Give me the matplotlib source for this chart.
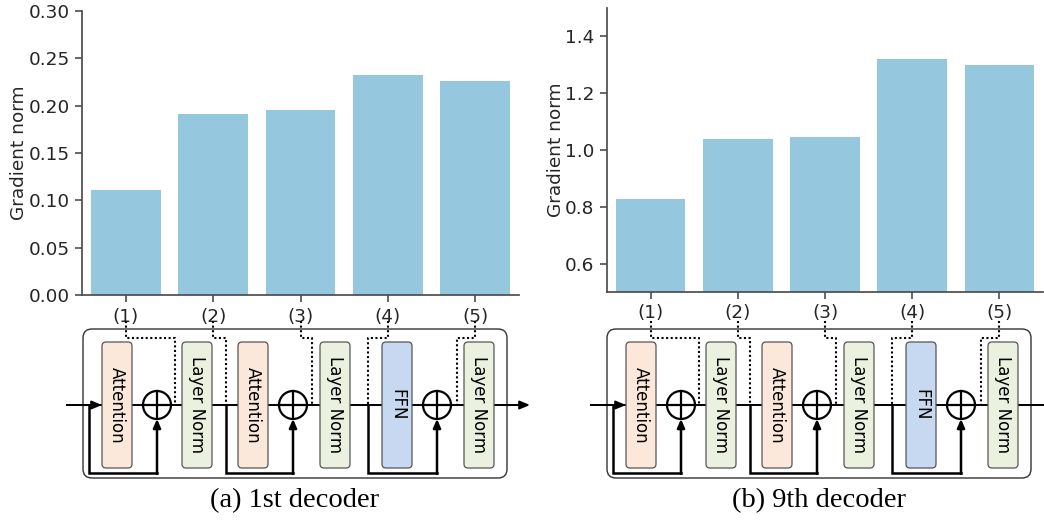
import numpy as np
import matplotlib.pyplot as plt
from matplotlib.patches import FancyBboxPatch, Circle

# bar data
labels = ["(1)", "(2)", "(3)", "(4)", "(5)"]
norm_1st = [0.111, 0.191, 0.195, 0.232, 0.226]
norm_9th = [0.827, 1.040, 1.046, 1.321, 1.298]

# decoder layer diagram
blocks = ["Attention", "Layer Norm", "Attention", "Layer Norm", "FFN", "Layer Norm"]
block_colors = {"Attention": "#fce8da", "Layer Norm": "#ebf1df", "FFN": "#c6d9f1"}

bar_color = "#95c7de"
dark = "#262626"
W, H = 1044, 522

fig = plt.figure(figsize=(10.44, 5.22), dpi=100)


def bar_panel(rect, vals, ylim, yticks, fmt):
    ax = fig.add_axes(rect)
    x = np.arange(len(vals))
    ax.bar(x, vals, width=0.8, color=bar_color)
    ax.set_xlim(-0.5, len(vals) - 0.5)
    ax.set_ylim(*ylim)
    ax.set_yticks(yticks, [fmt.format(t) for t in yticks])
    ax.set_xticks(x, labels)
    ax.set_ylabel("Gradient norm", fontsize=13.3, color=dark, labelpad=0)
    for s in ["top", "right"]:
        ax.spines[s].set_visible(False)
    for s in ["left", "bottom"]:
        ax.spines[s].set_color("#4d4d4d")
        ax.spines[s].set_linewidth(1.25)
    ax.tick_params(labelsize=13.3, labelcolor=dark, length=5, width=1.2,
                   color="#4d4d4d", pad=4)
    return ax


ax1 = bar_panel([82 / W, 1 - 295 / H, 437 / W, 284 / H], norm_1st,
                (0, 0.30), np.arange(0, 0.31, 0.05), "{:.2f}")
ax2 = bar_panel([607 / W, 1 - 292 / H, 436 / W, 284 / H], norm_9th,
                (0.5, 1.5), [0.6, 0.8, 1.0, 1.2, 1.4], "{:.1f}")

# overlay in pixel coordinates for the diagrams
ov = fig.add_axes([0, 0, 1, 1])
ov.set_xlim(0, W)
ov.set_ylim(H, 0)
ov.axis("off")


def tick_px(ax, i):
    return ax.transData.transform((i, ax.get_ylim()[0]))[0]


def diagram(ax_bar, fx, caption):
    top, bot, ym = 329, 478, 405
    ov.add_patch(FancyBboxPatch((fx, top), 424, bot - top,
                                boxstyle="round,pad=0,rounding_size=9",
                                fc="none", ec="#333333", lw=1.0, zorder=1))
    # main line
    ov.plot([fx - 16, fx + 440], [ym, ym], color="black", lw=1.4, zorder=2)
    ov.annotate("", xy=(fx + 19, ym), xytext=(fx - 16, ym),
                arrowprops=dict(arrowstyle="-|>,head_length=0.6,head_width=0.25",
                                color="black", lw=1.4, shrinkA=0, shrinkB=0), zorder=3)
    ov.annotate("", xy=(fx + 447, ym), xytext=(fx + 420, ym),
                arrowprops=dict(arrowstyle="-|>,head_length=0.6,head_width=0.25",
                                color="black", lw=1.4, shrinkA=0, shrinkB=0), zorder=3)
    # blocks
    bx = [19, 99, 155, 237, 299, 381]
    for name, x in zip(blocks, bx):
        ov.add_patch(FancyBboxPatch((fx + x, 342), 30, 126,
                                    boxstyle="round,pad=0,rounding_size=4",
                                    fc=block_colors[name], ec="#555555", lw=0.9, zorder=4))
        ov.text(fx + x + 15, ym, name, rotation=270, ha="center", va="center",
                fontsize=12, color="black", zorder=5)
    # adders + residual paths
    cx = [74, 210, 354]
    rx = [6, 143, 285]
    r = 14
    for c, s in zip(cx, rx):
        ov.add_patch(Circle((fx + c, ym), r, fc="white", ec="black", lw=1.6, zorder=4))
        ov.plot([fx + c - r, fx + c + r], [ym, ym], color="black", lw=1.6, zorder=5)
        ov.plot([fx + c, fx + c], [ym - r, ym + r], color="black", lw=1.6, zorder=5)
        ov.plot([fx + s, fx + s, fx + c], [ym, 473, 473], color="black", lw=1.8,
                zorder=3, solid_joinstyle="miter")
        ov.annotate("", xy=(fx + c, ym + r), xytext=(fx + c, 473.9),
                    arrowprops=dict(arrowstyle="-|>,head_length=0.5,head_width=0.22",
                                    color="black", lw=1.8, shrinkA=0, shrinkB=0), zorder=3)
    # dotted taps from tick labels
    taps = [92, 143, 229, 285, 374]
    for i, t in enumerate(taps):
        lx = tick_px(ax_bar, i)
        ov.plot([lx, lx, fx + t, fx + t], [321, 338, 338, ym], color="black",
                lw=1.5, ls=(0, (1, 1.2)), zorder=3)
    ov.text(fx + 212, 501, caption, ha="center", va="center", fontsize=20.5,
            family="Liberation Serif", color="black")


diagram(ax1, 83, "(a) 1st decoder")
diagram(ax2, 607, "(b) 9th decoder")

fig.savefig("out.png", dpi=100)
